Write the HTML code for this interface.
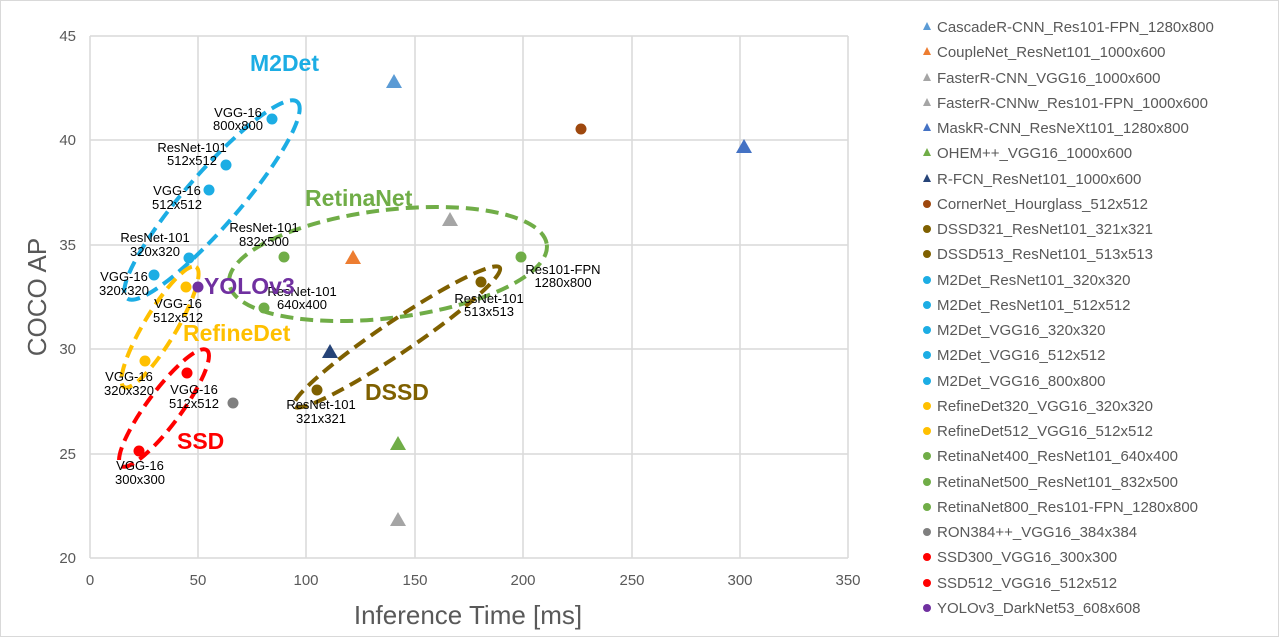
<!DOCTYPE html>
<html><head><meta charset="utf-8"><style>
html,body{margin:0;padding:0;background:#fff}
svg{display:block;font-family:"Liberation Sans",sans-serif}
</style></head><body>
<svg width="1280" height="638" viewBox="0 0 1280 638">
<rect x="0.5" y="0.5" width="1278" height="636" fill="#fff" stroke="#d9d9d9"/>
<g stroke="#d9d9d9" stroke-width="1.5">
<line x1="90" y1="36" x2="848" y2="36"/><line x1="90" y1="140" x2="848" y2="140"/><line x1="90" y1="245" x2="848" y2="245"/><line x1="90" y1="349" x2="848" y2="349"/><line x1="90" y1="454" x2="848" y2="454"/><line x1="90" y1="558" x2="848" y2="558"/>
<line x1="90" y1="36" x2="90" y2="558"/><line x1="198" y1="36" x2="198" y2="558"/><line x1="306" y1="36" x2="306" y2="558"/><line x1="415" y1="36" x2="415" y2="558"/><line x1="523" y1="36" x2="523" y2="558"/><line x1="632" y1="36" x2="632" y2="558"/><line x1="740" y1="36" x2="740" y2="558"/><line x1="848" y1="36" x2="848" y2="558"/>
</g>
<g fill="#595959" font-size="15" text-anchor="end">
<text x="76" y="41">45</text><text x="76" y="145">40</text><text x="76" y="250">35</text><text x="76" y="354">30</text><text x="76" y="459">25</text><text x="76" y="563">20</text>
</g>
<g fill="#595959" font-size="15" text-anchor="middle">
<text x="90" y="585">0</text><text x="198" y="585">50</text><text x="306" y="585">100</text><text x="415" y="585">150</text><text x="523" y="585">200</text><text x="632" y="585">250</text><text x="740" y="585">300</text><text x="848" y="585">350</text>
</g>
<text x="468" y="624" fill="#595959" font-size="26" text-anchor="middle">Inference Time [ms]</text>
<text transform="translate(46,297) rotate(-90)" fill="#595959" font-size="26" text-anchor="middle">COCO AP</text>

<g fill="none" stroke-width="4" stroke-dasharray="13,7">
<ellipse cx="212" cy="200" rx="130" ry="27" transform="rotate(-49 212 200)" stroke="#1cade4"/>
<ellipse cx="388" cy="264" rx="160" ry="54" transform="rotate(-7 388 264)" stroke="#70ad47"/>
<ellipse cx="397" cy="337" rx="124" ry="16" transform="rotate(-34 397 337)" stroke="#7f6000"/>
<ellipse cx="160" cy="327" rx="70" ry="16" transform="rotate(-59 160 327)" stroke="#ffc000"/>
<ellipse cx="164" cy="408" rx="72" ry="17" transform="rotate(-53.5 164 408)" stroke="#f00"/>
</g>

<g>
<polygon points="394,74 402,88 386,88" fill="#5b9bd5"/>
<polygon points="353,250 361,264 345,264" fill="#ed7d31"/>
<polygon points="398,512 406,526 390,526" fill="#a5a5a5"/>
<polygon points="450,212 458,226 442,226" fill="#a5a5a5"/>
<polygon points="744,139 752,153 736,153" fill="#4472c4"/>
<polygon points="398,436 406,450 390,450" fill="#70ad47"/>
<polygon points="330,344 338,358 322,358" fill="#264478"/>
</g>
<g>
<circle cx="581" cy="129" r="5.5" fill="#9e480e"/>
<circle cx="317" cy="390" r="5.5" fill="#7f6000"/>
<circle cx="481" cy="282" r="5.5" fill="#7f6000"/>
<g fill="#1cade4"><circle cx="154" cy="275" r="5.5"/><circle cx="189" cy="258" r="5.5"/><circle cx="209" cy="190" r="5.5"/><circle cx="226" cy="165" r="5.5"/><circle cx="272" cy="119" r="5.5"/></g>
<g fill="#ffc000"><circle cx="145" cy="361" r="5.5"/><circle cx="186" cy="287" r="5.5"/></g>
<g fill="#70ad47"><circle cx="264" cy="308" r="5.5"/><circle cx="284" cy="257" r="5.5"/><circle cx="521" cy="257" r="5.5"/></g>
<circle cx="233" cy="403" r="5.5" fill="#7f7f7f"/>
<g fill="#f00"><circle cx="139" cy="451" r="5.5"/><circle cx="187" cy="373" r="5.5"/></g>
<circle cx="198" cy="287" r="5.5" fill="#7030a0"/>
</g>

<g font-size="13" fill="#000" text-anchor="middle">
<text x="238" y="117">VGG-16</text><text x="238" y="130">800x800</text>
<text x="192" y="152">ResNet-101</text><text x="192" y="165">512x512</text>
<text x="177" y="195">VGG-16</text><text x="177" y="209">512x512</text>
<text x="155" y="242">ResNet-101</text><text x="155" y="256">320x320</text>
<text x="124" y="281">VGG-16</text><text x="124" y="295">320x320</text>
<text x="264" y="232">ResNet-101</text><text x="264" y="246">832x500</text>
<text x="178" y="308">VGG-16</text><text x="178" y="322">512x512</text>
<text x="302" y="296">ResNet-101</text><text x="302" y="309">640x400</text>
<text x="129" y="381">VGG-16</text><text x="129" y="395">320x320</text>
<text x="194" y="394">VGG-16</text><text x="194" y="408">512x512</text>
<text x="321" y="409">ResNet-101</text><text x="321" y="423">321x321</text>
<text x="140" y="470">VGG-16</text><text x="140" y="484">300x300</text>
<text x="489" y="303">ResNet-101</text><text x="489" y="316">513x513</text>
<text x="563" y="274">Res101-FPN</text><text x="563" y="287">1280x800</text>
</g>
<g font-weight="bold" font-size="23">
<text x="250" y="71" fill="#1cade4">M2Det</text>
<text x="305" y="206" fill="#70ad47">RetinaNet</text>
<text x="204" y="294" fill="#7030a0">YOLOv3</text>
<text x="183" y="341" fill="#ffc000">RefineDet</text>
<text x="365" y="400" fill="#7f6000">DSSD</text>
<text x="177" y="449" fill="#f00">SSD</text>
</g>

<g font-size="15" fill="#595959">
<polygon points="927,22 931,30 923,30" fill="#5b9bd5"/><text x="937" y="32">CascadeR-CNN_Res101-FPN_1280x800</text>
<polygon points="927,47 931,55 923,55" fill="#ed7d31"/><text x="937" y="57">CoupleNet_ResNet101_1000x600</text>
<polygon points="927,73 931,81 923,81" fill="#a5a5a5"/><text x="937" y="83">FasterR-CNN_VGG16_1000x600</text>
<polygon points="927,98 931,106 923,106" fill="#a5a5a5"/><text x="937" y="108">FasterR-CNNw_Res101-FPN_1000x600</text>
<polygon points="927,123 931,131 923,131" fill="#4472c4"/><text x="937" y="133">MaskR-CNN_ResNeXt101_1280x800</text>
<polygon points="927,148 931,156 923,156" fill="#70ad47"/><text x="937" y="158">OHEM++_VGG16_1000x600</text>
<polygon points="927,174 931,182 923,182" fill="#264478"/><text x="937" y="184">R-FCN_ResNet101_1000x600</text>
<circle cx="927" cy="204" r="4" fill="#9e480e"/><text x="937" y="209">CornerNet_Hourglass_512x512</text>
<circle cx="927" cy="229" r="4" fill="#7f6000"/><text x="937" y="234">DSSD321_ResNet101_321x321</text>
<circle cx="927" cy="254" r="4" fill="#7f6000"/><text x="937" y="259">DSSD513_ResNet101_513x513</text>
<circle cx="927" cy="280" r="4" fill="#1cade4"/><text x="937" y="285">M2Det_ResNet101_320x320</text>
<circle cx="927" cy="305" r="4" fill="#1cade4"/><text x="937" y="310">M2Det_ResNet101_512x512</text>
<circle cx="927" cy="330" r="4" fill="#1cade4"/><text x="937" y="335">M2Det_VGG16_320x320</text>
<circle cx="927" cy="355" r="4" fill="#1cade4"/><text x="937" y="360">M2Det_VGG16_512x512</text>
<circle cx="927" cy="381" r="4" fill="#1cade4"/><text x="937" y="386">M2Det_VGG16_800x800</text>
<circle cx="927" cy="406" r="4" fill="#ffc000"/><text x="937" y="411">RefineDet320_VGG16_320x320</text>
<circle cx="927" cy="431" r="4" fill="#ffc000"/><text x="937" y="436">RefineDet512_VGG16_512x512</text>
<circle cx="927" cy="456" r="4" fill="#70ad47"/><text x="937" y="461">RetinaNet400_ResNet101_640x400</text>
<circle cx="927" cy="482" r="4" fill="#70ad47"/><text x="937" y="487">RetinaNet500_ResNet101_832x500</text>
<circle cx="927" cy="507" r="4" fill="#70ad47"/><text x="937" y="512">RetinaNet800_Res101-FPN_1280x800</text>
<circle cx="927" cy="532" r="4" fill="#7f7f7f"/><text x="937" y="537">RON384++_VGG16_384x384</text>
<circle cx="927" cy="557" r="4" fill="#f00"/><text x="937" y="562">SSD300_VGG16_300x300</text>
<circle cx="927" cy="583" r="4" fill="#f00"/><text x="937" y="588">SSD512_VGG16_512x512</text>
<circle cx="927" cy="608" r="4" fill="#7030a0"/><text x="937" y="613">YOLOv3_DarkNet53_608x608</text>
</g>
</svg>
</body></html>
